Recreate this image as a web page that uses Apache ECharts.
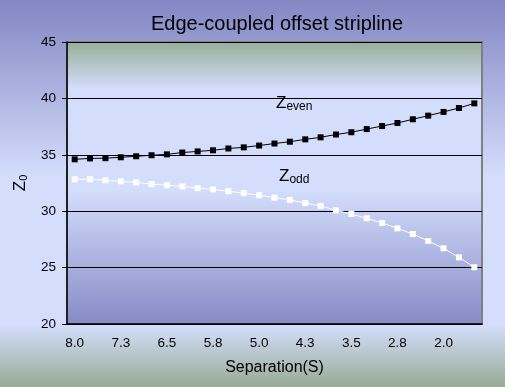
<!DOCTYPE html>
<html>
<head>
<meta charset="utf-8">
<script src="https://cdn.jsdelivr.net/npm/echarts@6/dist/echarts.min.js"></script>
<style>html,body{margin:0;padding:0;}#c{width:505px;height:387px;}</style>
</head>
<body>
<div id="c"></div>
<script>
var separation = ['8.0','7.8','7.5','7.3','7.0','6.8','6.5','6.3','6.0','5.8','5.5','5.3','5.0','4.8','4.5','4.3','4.0','3.8','3.5','3.3','3.0','2.8','2.5','2.3','2.0','1.8','1.5'];
var zEven = [34.6,34.68,34.7,34.78,34.87,34.96,35.04,35.2,35.3,35.4,35.56,35.66,35.82,36.0,36.16,36.37,36.55,36.8,37.0,37.28,37.55,37.82,38.15,38.47,38.8,39.15,39.56];
var zOdd = [32.83,32.83,32.74,32.65,32.56,32.4,32.3,32.2,32.04,31.94,31.77,31.6,31.42,31.2,31.0,30.72,30.47,30.08,29.75,29.37,28.95,28.48,27.98,27.36,26.71,25.91,25.03];
var yTicks = {min: 20, max: 45, interval: 5};

var chart = echarts.init(document.getElementById('c'));
var font = '"Liberation Sans", Arial, sans-serif';
chart.setOption({
  backgroundColor: {type:'linear', x:0, y:0, x2:0, y2:1, colorStops:[
    {offset:0, color:'#8386c3'}, {offset:0.46, color:'#d4defc'}, {offset:0.84, color:'#d4defc'}, {offset:1, color:'#97ab95'}]},
  animation: false,
  title: {text:'Edge-coupled offset stripline', left: 272, textAlign:'center', top: 9,
    textStyle:{fontFamily:font, fontSize:20, fontWeight:'normal', color:'#000'}},
  grid: {left:67, right:23, top:42, bottom:63, show:true, borderColor:'#808080', borderWidth:2,
    backgroundColor:{type:'linear', x:0, y:0, x2:0, y2:1, colorStops:[
      {offset:0, color:'#97ad97'}, {offset:0.17, color:'#d4defc'}, {offset:0.52, color:'#d4defc'}, {offset:1, color:'#878ac6'}]}},
  xAxis: {type:'category', data: separation, boundaryGap:true,
    name:'Separation(S)', nameLocation:'middle', nameGap:36,
    nameTextStyle:{fontFamily:font, fontSize:16, color:'#000'},
    axisLine:{lineStyle:{color:'#000', width:1.5}},
    axisTick:{interval:2, length:5, lineStyle:{color:'#000'}},
    axisLabel:{interval:2, fontFamily:font, fontSize:13.5, color:'#000', margin:12}},
  yAxis: {type:'value', min:yTicks.min, max:yTicks.max, interval:yTicks.interval,
    name:'{z|Z}{s|0}', nameLocation:'middle', nameGap:38, nameRotate:90,
    nameTextStyle:{rich:{z:{fontFamily:font, fontSize:17, color:'#000'}, s:{fontFamily:font, fontSize:11, color:'#000', verticalAlign:'bottom', padding:[7,0,0,0]}}},
    axisLine:{show:true, lineStyle:{color:'#000', width:1.5}},
    axisTick:{show:true, length:5, lineStyle:{color:'#000'}},
    axisLabel:{fontFamily:font, fontSize:13.5, color:'#000', margin:11},
    splitLine:{show:true, lineStyle:{color:'#000', width:1}}},
  series: [
    {name:'Zeven', type:'line', data:zEven, symbol:'rect', symbolSize:6,
      lineStyle:{color:'#000', width:1}, itemStyle:{color:'#000'}},
    {name:'Zodd', type:'line', data:zOdd, symbol:'rect', symbolSize:6,
      lineStyle:{color:'#fff', width:1}, itemStyle:{color:'#fff'}}
  ],
  graphic: [
    {type:'text', left:276, top:95, style:{text:'{z|Z}{s|even}', rich:{z:{fontFamily:font, fontSize:17, fill:'#000'}, s:{fontFamily:font, fontSize:12, fill:'#000', verticalAlign:'bottom', padding:[6,0,0,0]}}}},
    {type:'text', left:279, top:168, style:{text:'{z|Z}{s|odd}', rich:{z:{fontFamily:font, fontSize:17, fill:'#000'}, s:{fontFamily:font, fontSize:12, fill:'#000', verticalAlign:'bottom', padding:[6,0,0,0]}}}}
  ]
});
</script>
</body>
</html>
